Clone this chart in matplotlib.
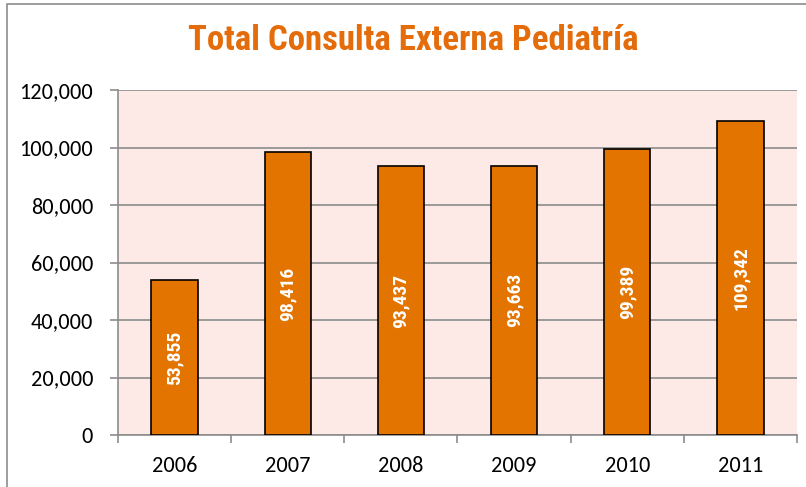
import matplotlib.pyplot as plt
import numpy as np
from matplotlib.patches import Rectangle
from matplotlib.ticker import FuncFormatter, FixedLocator

years = ["2006", "2007", "2008", "2009", "2010", "2011"]
consultas = [53855, 98416, 93437, 93663, 99389, 109342]
y_ticks = [0, 20000, 40000, 60000, 80000, 100000, 120000]

orange = "#E46C0A"
bar_color = "#E47400"
narrow = ["Roboto Condensed", "Liberation Sans", "DejaVu Sans"]

plt.rcParams["font.family"] = ["Carlito", "DejaVu Sans"]

fig = plt.figure(figsize=(8.06, 4.87), dpi=100)
# marco exterior del gráfico
fig.patches.append(Rectangle((7 / 806, -0.1), 1.2, 1.1 - 4 / 487,
                             transform=fig.transFigure, fill=False,
                             edgecolor="#8c8c8c", linewidth=1.2))

ax = fig.add_axes([118 / 806, 52 / 487, 679 / 806, 345 / 487])
ax.set_facecolor("#FDEAE6")

x = np.arange(len(years))
bars = ax.bar(x, consultas, width=0.41, color=bar_color, edgecolor="black",
              linewidth=1.2, zorder=3)

for xi, v in zip(x, consultas):
    ax.text(xi, v / 2, f"{v:,}", rotation=90, ha="center", va="center",
            color="white", fontsize=14, fontweight="bold", family=narrow,
            zorder=4)

ax.set_xlim(-0.5, len(years) - 0.5)
ax.set_ylim(0, 120000)
ax.set_yticks(y_ticks)
ax.yaxis.set_major_formatter(FuncFormatter(lambda v, p: f"{int(v):,}"))
ax.grid(axis="y", color="#8c8c8c", linewidth=1.2, zorder=1)

ax.set_xticks(x)
ax.set_xticklabels(years)
ax.xaxis.set_minor_locator(FixedLocator(np.arange(-0.5, len(years), 1.0)))
ax.tick_params(axis="x", which="major", length=0, pad=15, labelsize=16)
ax.tick_params(axis="x", which="minor", length=6, color="#8c8c8c", width=1.2)
ax.tick_params(axis="y", length=6, color="#8c8c8c", width=1.2, labelsize=16, pad=12)

for s in ["top", "right"]:
    ax.spines[s].set_visible(False)
for s in ["left", "bottom"]:
    ax.spines[s].set_color("#8c8c8c")
    ax.spines[s].set_linewidth(1.2)

fig.text(413 / 806, 1 - 41 / 487, "Total Consulta Externa Pediatría",
         ha="center", va="center", color=orange, fontsize=25,
         fontweight="bold", family=narrow)

fig.savefig("out.png", dpi=100)
